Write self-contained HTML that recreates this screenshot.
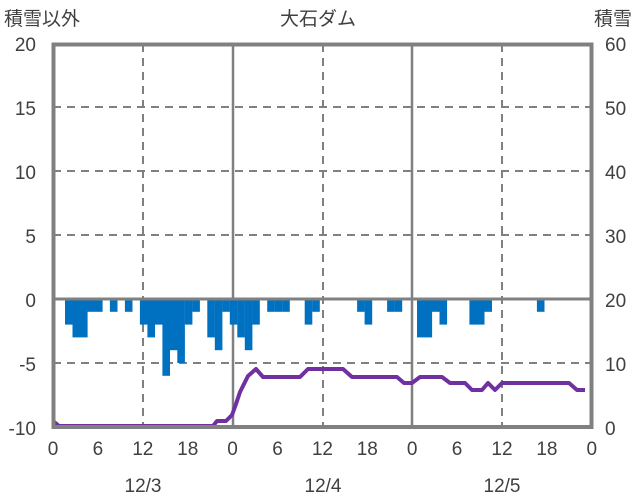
<!DOCTYPE html>
<html><head><meta charset="utf-8"><style>
body{margin:0;background:#fff}
svg{display:block}
text{font-family:"Liberation Sans","Noto Sans CJK JP",sans-serif;fill:#404040}
</style></head><body>
<svg id="s" width="636" height="501" xmlns="http://www.w3.org/2000/svg">
<text x="318" y="25" font-size="19" text-anchor="middle">大石ダム</text>
<text x="4" y="25" font-size="19">積雪以外</text>
<text x="632" y="25" font-size="19" text-anchor="end">積雪</text>
<g font-size="19" text-anchor="end">
<text x="36" y="51">20</text><text x="36" y="115">15</text><text x="36" y="179">10</text>
<text x="36" y="243">5</text><text x="36" y="307">0</text><text x="36" y="371">-5</text><text x="36" y="435">-10</text>
</g>
<g font-size="19" text-anchor="start">
<text x="605" y="51">60</text><text x="605" y="115">50</text><text x="605" y="179">40</text>
<text x="605" y="243">30</text><text x="605" y="307">20</text><text x="605" y="371">10</text><text x="605" y="435">0</text>
</g>
<g font-size="19" text-anchor="middle" id="xl"></g>
<g font-size="19" text-anchor="middle">
<text x="143" y="492">12/3</text><text x="323" y="492">12/4</text><text x="502" y="492">12/5</text>
</g>
<g stroke="#808080" stroke-width="2" stroke-dasharray="8,6" fill="none">
<line x1="53" y1="107" x2="592" y2="107"/><line x1="53" y1="171" x2="592" y2="171"/>
<line x1="53" y1="235" x2="592" y2="235"/><line x1="53" y1="363" x2="592" y2="363"/>
<line x1="143" y1="44" x2="143" y2="427"/><line x1="323" y1="44" x2="323" y2="427"/><line x1="502" y1="44" x2="502" y2="427"/>
</g>
<g stroke="#808080" stroke-width="2.5">
<line x1="233" y1="44" x2="233" y2="427"/><line x1="412" y1="44" x2="412" y2="427"/>
</g>
<g id="bars" fill="#0070c0"></g>
<line x1="53" y1="299" x2="592" y2="299" stroke="#808080" stroke-width="3"/>
<polyline fill="none" stroke="#7030a0" stroke-width="4" stroke-linejoin="round" points="53,421 59,426 213,426 217,421 226,421 232,415 236,404 240,392 248,376 256,369 263,377 300,377 308,369 343,369 352,377 397,377 404,383 412,383 420,377 442,377 450,383 465,383 472,390 482,390 488,383 495,390 502,383 569,383 577,390 585,390"/>
<rect x="53.5" y="44.5" width="538" height="382.5" fill="none" stroke="#808080" stroke-width="4"/>
</svg>
<script>
var b={1:-2,2:-3,3:-3,4:-1,5:-1,7:-1,9:-1,11:-2,12:-3,13:-2,14:-6,15:-4,16:-5,17:-2,18:-1,20:-3,21:-4,22:-1,23:-2,24:-3,25:-4,26:-2,28:-1,29:-1,30:-1,33:-2,34:-1,40:-1,41:-2,44:-1,45:-1,48:-3,49:-3,50:-1,51:-2,55:-2,56:-2,57:-1,64:-1};
var g=document.getElementById('bars'),ns='http://www.w3.org/2000/svg';
for(var k in b){var r=document.createElementNS(ns,'rect');var x=57.5+7.49*k;r.setAttribute('x',x.toFixed(1));r.setAttribute('y','299');r.setAttribute('width','7.6');r.setAttribute('height',(-b[k]*12.8).toFixed(1));g.appendChild(r);}
var xl=document.getElementById('xl'),labs=['0','6','12','18'];
for(var i=0;i<=12;i++){var t=document.createElementNS(ns,'text');t.setAttribute('x',(53+44.9*i).toFixed(1));t.setAttribute('y','455');t.textContent=labs[i%4];xl.appendChild(t);}
</script>
</body></html>
